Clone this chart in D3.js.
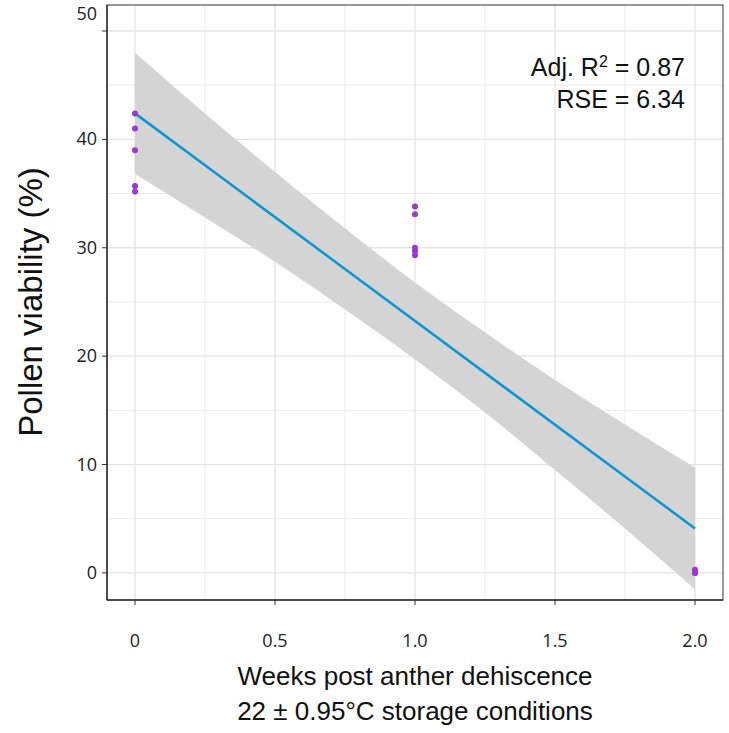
<!DOCTYPE html><html><head><meta charset="utf-8"><script src="https://cdn.jsdelivr.net/npm/d3@7"></script>
<style>body{margin:0;background:#fff}</style></head><body><svg id="c" width="729" height="733"></svg><script>
const xTicks=[0,0.5,1.0,1.5,2.0], xTickLabels=["0","0.5","1.0","1.5","2.0"];
const yTicks=[0,10,20,30,40,50];
const ptX=[0,0,0,0,0,1,1,1,1,1,2,2,2,2,2];
const ptY=[42.4,41.0,39.0,35.7,35.2,33.8,33.1,30.0,29.7,29.3,0.3,0.1,0,0.2,0];
const fitX=[0,2], fitY=[42.4,4.1];
const bandX=[0,0.25,0.5,0.75,1,1.25,1.5,1.75,2];
const bandLo=[36.8,32.8,28.7,24.3,19.7,14.8,9.5,4.1,-1.5];
const bandHi=[48.0,42.4,37.0,31.8,26.8,22.2,17.8,13.7,9.7];
const svg=d3.select("#c");
const x=d3.scaleLinear().domain([-0.1,2.1]).range([107,723]);
const y=d3.scaleLinear().domain([-2.5,52.4]).range([600,5]);
const g=svg.append("g");
[0.25,0.75,1.25,1.75].forEach(v=>g.append("line").attr("x1",x(v)).attr("x2",x(v)).attr("y1",5).attr("y2",600).attr("stroke","#ebebeb").attr("stroke-width",1));
[5,15,25,35,45].forEach(v=>g.append("line").attr("y1",y(v)).attr("y2",y(v)).attr("x1",107).attr("x2",723).attr("stroke","#ebebeb").attr("stroke-width",1));
xTicks.forEach(v=>g.append("line").attr("x1",x(v)).attr("x2",x(v)).attr("y1",5).attr("y2",600).attr("stroke","#e3e3e3").attr("stroke-width",1.3));
yTicks.forEach(v=>g.append("line").attr("y1",y(v)).attr("y2",y(v)).attr("x1",107).attr("x2",723).attr("stroke","#e3e3e3").attr("stroke-width",1.3));
const bd=bandX.map((v,i)=>({x:v,lo:bandLo[i],hi:bandHi[i]}));
g.append("path").datum(bd).attr("d",d3.area().curve(d3.curveMonotoneX).x(d=>x(d.x)).y0(d=>y(d.lo)).y1(d=>y(d.hi))).attr("fill","#d4d4d4");
g.append("path").datum(fitX.map((v,i)=>[v,fitY[i]])).attr("d",d3.line().x(d=>x(d[0])).y(d=>y(d[1]))).attr("stroke","#0a96d2").attr("stroke-width",2.5).attr("fill","none");
g.selectAll("circle").data(ptX.map((v,i)=>[v,ptY[i]])).join("circle").attr("cx",d=>x(d[0])).attr("cy",d=>y(d[1])).attr("r",3).attr("fill","#9b38d0");
g.append("rect").attr("x",107).attr("y",5).attr("width",616).attr("height",595).attr("fill","none").attr("stroke","#555").attr("stroke-width",1.2);
g.append("line").attr("x1",107).attr("x2",107).attr("y1",5).attr("y2",600).attr("stroke","#333").attr("stroke-width",1.5);
g.append("line").attr("x1",107).attr("x2",723).attr("y1",600).attr("y2",600).attr("stroke","#333").attr("stroke-width",1.5);
xTicks.forEach((v,i)=>{g.append("line").attr("x1",x(v)).attr("x2",x(v)).attr("y1",600).attr("y2",605).attr("stroke","#333");
 g.append("text").attr("x",x(v)).attr("y",647).attr("text-anchor","middle").attr("font-family","Open Sans, sans-serif").attr("font-size",18).attr("fill","#222").text(xTickLabels[i]);});
yTicks.forEach(v=>{g.append("line").attr("x1",102).attr("x2",107).attr("y1",y(v)).attr("y2",y(v)).attr("stroke","#333");
 g.append("text").attr("x",97).attr("y",v===50?20:y(v)+6).attr("text-anchor","end").attr("font-family","Open Sans, sans-serif").attr("font-size",18).attr("fill","#222").text(v);});
const ff="Liberation Sans, Arial, sans-serif";
const a=g.append("text").attr("x",685).attr("y",76).attr("text-anchor","end").attr("font-family",ff).attr("font-size",25).attr("fill","#111");
a.append("tspan").text("Adj. R");a.append("tspan").attr("dy",-9).attr("font-size",16).text("2");a.append("tspan").attr("dy",9).text(" = 0.87");
g.append("text").attr("x",685).attr("y",108).attr("text-anchor","end").attr("font-family",ff).attr("font-size",25).attr("fill","#111").text("RSE = 6.34");
g.append("text").attr("transform","translate(42,302) rotate(-90)").attr("text-anchor","middle").attr("font-family",ff).attr("font-size",33).attr("fill","#111").text("Pollen viability (%)");
g.append("text").attr("x",415).attr("y",685).attr("text-anchor","middle").attr("font-family",ff).attr("font-size",26).attr("fill","#111").text("Weeks post anther dehiscence");
g.append("text").attr("x",415).attr("y",720).attr("text-anchor","middle").attr("font-family",ff).attr("font-size",26).attr("fill","#111").text("22 ± 0.95°C storage conditions");
</script></body></html>
